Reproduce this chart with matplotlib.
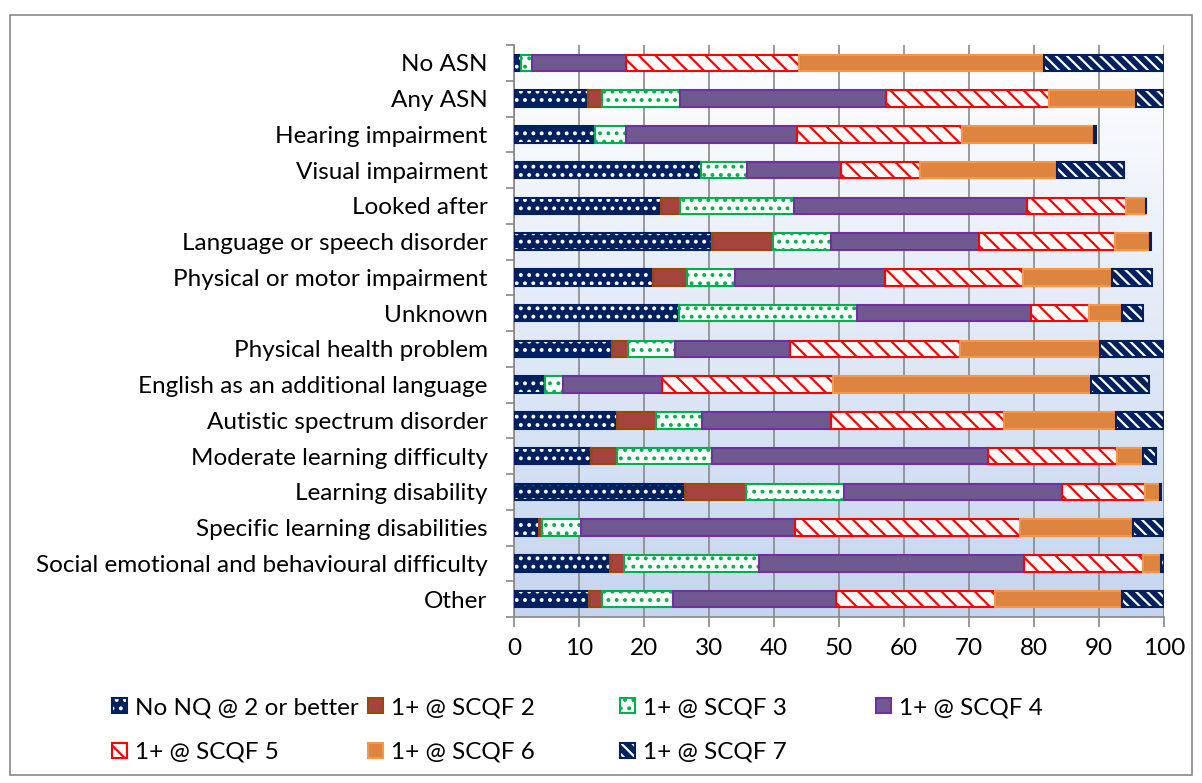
import numpy as np
import matplotlib.pyplot as plt
from matplotlib.patches import Patch, Rectangle

plt.rcParams['font.family'] = ['Lato', 'DejaVu Sans']
plt.rcParams['hatch.linewidth'] = 1.6

categories = ["No ASN", "Any ASN", "Hearing impairment", "Visual impairment", "Looked after",
              "Language or speech disorder", "Physical or motor impairment", "Unknown",
              "Physical health problem", "English as an additional language",
              "Autistic spectrum disorder", "Moderate learning difficulty", "Learning disability",
              "Specific learning disabilities", "Social emotional and behavioural difficulty", "Other"]

series = ["No NQ @ 2 or better", "1+ @ SCQF 2", "1+ @ SCQF 3", "1+ @ SCQF 4",
          "1+ @ SCQF 5", "1+ @ SCQF 6", "1+ @ SCQF 7"]

no_nq = [1.1, 11.4, 12.4, 28.8, 22.6, 30.4, 21.4, 25.4, 15.1, 4.7, 15.8, 11.8, 26.3, 3.9, 14.7, 11.6]
scqf2 = [0.0, 2.1, 0.0, 0.0, 3.0, 9.5, 5.2, 0.0, 2.4, 0.0, 6.0, 4.1, 9.4, 0.4, 2.2, 1.9]
scqf3 = [1.7, 12.0, 4.9, 7.1, 17.5, 8.8, 7.4, 27.3, 7.3, 2.9, 7.1, 14.5, 15.0, 6.0, 20.8, 10.9]
scqf4 = [14.4, 31.7, 26.3, 14.4, 35.8, 22.9, 23.0, 26.8, 17.7, 15.1, 19.9, 42.5, 33.6, 32.9, 40.8, 25.2]
scqf5 = [26.6, 25.1, 25.3, 12.2, 15.2, 20.8, 21.3, 8.9, 26.1, 26.4, 26.6, 19.9, 12.8, 34.7, 18.2, 24.4]
scqf6 = [37.8, 13.4, 20.4, 21.0, 3.2, 5.4, 13.7, 5.1, 21.6, 39.7, 17.2, 4.0, 2.3, 17.4, 2.9, 19.6]
scqf7 = [18.4, 4.3, 0.3, 10.3, 0.0, 0.2, 6.1, 3.3, 9.8, 8.9, 7.4, 2.0, 0.2, 4.7, 0.4, 6.4]

values = [no_nq, scqf2, scqf3, scqf4, scqf5, scqf6, scqf7]

# face, hatch colour, hatch, outline
styles = [
    ('#002060', 'white', '..', '#002060'),
    ('#a5443f', '#a5443f', None, '#984807'),
    ('white', '#00b050', '..', '#00b050'),
    ('#705890', '#705890', None, '#7030a0'),
    ('white', '#ff0000', '\\\\', '#ff0000'),
    ('#dd8540', '#dd8540', None, '#f79646'),
    ('#002060', 'white', '\\\\\\', '#002060'),
]

fs = 17.5

fig = plt.figure(figsize=(12.02, 7.83), dpi=100)
fig.patches.append(Rectangle((10 / 1202, 8 / 783), 1182 / 1202, 760 / 783,
                             transform=fig.transFigure, fill=False, edgecolor='#888888', lw=1.2))

ax = fig.add_axes([514 / 1202, 1 - 617 / 783, 650 / 1202, 572 / 783])

# gradient background
grad = np.linspace(0, 1, 256).reshape(-1, 1)
top = np.array([1.0, 1.0, 1.0])
bot = np.array([0xc5, 0xd5, 0xee]) / 255
img = top + (bot - top) * grad[:, :, None]
ax.imshow(img, extent=[0, 1, 0, 1], transform=ax.transAxes, aspect='auto', zorder=0)

y = np.arange(len(categories))
left = np.zeros(len(categories))
bh = 0.46
for vals, (face, hcol, hatch, edge) in zip(values, styles):
    vals = np.array(vals)
    ax.barh(y, vals, left=left, height=bh, color=face, edgecolor=hcol, hatch=hatch, lw=0, zorder=3)
    ax.barh(y, vals, left=left, height=bh, fill=False, edgecolor=edge, lw=1.5, zorder=4)
    left = left + vals

ax.set_xlim(0, 100)
ax.set_ylim(len(categories) - 0.5, -0.5)
ax.set_xticks(range(0, 101, 10))
ax.set_yticks(y)
ax.set_yticklabels(categories)
ax.set_yticks(np.arange(-0.5, len(categories)), minor=True)
ax.tick_params(axis='y', which='major', length=0, pad=19, labelsize=fs)
ax.tick_params(axis='y', which='minor', length=6, color='#888888', width=1.2)
ax.tick_params(axis='x', length=7, color='#888888', width=1.2, labelsize=fs, pad=8)
ax.grid(axis='x', color='#888888', lw=1.2, zorder=1)
ax.set_axisbelow(True)
for s in ['top', 'right']:
    ax.spines[s].set_visible(False)
for s in ['left', 'bottom']:
    ax.spines[s].set_color('#888888')
    ax.spines[s].set_linewidth(1.2)

handles = [(Patch(facecolor=f, edgecolor=h, hatch=ht, lw=0),
            Patch(fill=False, edgecolor=e, lw=1.5)) for f, h, ht, e in styles]
col_x = [112, 368, 620, 876]
for i, cx in enumerate(col_x):
    idx = [i, i + 4] if i + 4 < len(series) else [i]
    hs = [handles[k] for k in idx]
    lb = [series[k] for k in idx]
    fig.legend(hs, lb, loc='upper left', bbox_to_anchor=(cx / 1202, 1 - 697 / 783),
               frameon=False, fontsize=fs, handlelength=0.6, handleheight=0.6,
               handletextpad=0.35, labelspacing=0.98, borderpad=0, borderaxespad=0)

fig.savefig('out.png', dpi=100)
